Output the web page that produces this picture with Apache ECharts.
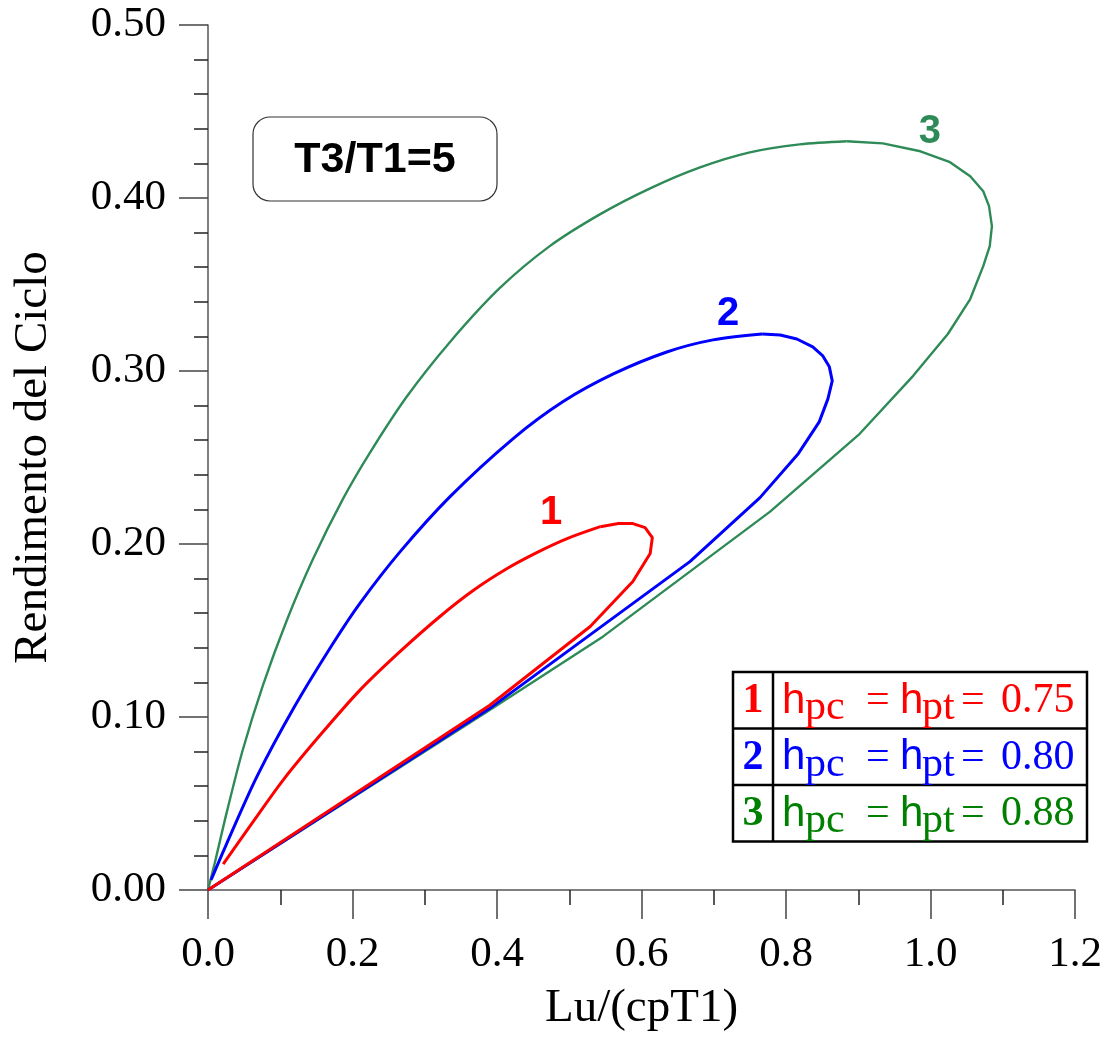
<!DOCTYPE html>
<html><head><meta charset="utf-8">
<script src="https://cdn.jsdelivr.net/npm/echarts@6/dist/echarts.min.js"></script>
<style>html,body{margin:0;padding:0;background:#fff}#c{width:1107px;height:1037px}</style>
</head><body><div id="c"></div>
<script>
// ---- data ----
// curve 1 (eta = 0.75): lower branch + turn, then upper branch
const curve1Lower = [[0,0],[0.390,0.1068],[0.529,0.1523],[0.588,0.1783],[0.612,0.1945],[0.615,0.2037],[0.605,0.2095],[0.588,0.2118],[0.568,0.2118],[0.543,0.2100]];
const curve1Upper = [[0.543,0.2100],[0.497,0.2031],[0.455,0.1950],[0.414,0.1858],[0.367,0.1731],[0.321,0.1581],[0.266,0.1379],[0.210,0.1154],[0.155,0.0894],[0.105,0.0641],[0.064,0.0404],[0.021,0.0150]];
// curve 2 (eta = 0.80)
const curve2Lower = [[0,0],[0.390,0.1050],[0.667,0.1898],[0.764,0.2268],[0.817,0.2522],[0.846,0.2706],[0.858,0.2839],[0.864,0.2943],[0.860,0.3024],[0.851,0.3087],[0.837,0.3139],[0.815,0.3185],[0.792,0.3208],[0.767,0.3214]];
const curve2Upper = [[0.767,0.3214],[0.699,0.3180],[0.635,0.3110],[0.561,0.2983],[0.491,0.2822],[0.422,0.2608],[0.335,0.2274],[0.266,0.1956],[0.210,0.1656],[0.173,0.1425],[0.120,0.1062],[0.068,0.0658],[0.025,0.0260],[0.0042,0.0058]];
// curve 3 (eta = 0.88)
const curve3Lower = [[0,0],[0.390,0.1040],[0.547,0.1466],[0.778,0.2187],[0.902,0.2637],[0.976,0.2972],[1.024,0.3214],[1.055,0.3416],[1.073,0.3606],[1.082,0.3722],[1.085,0.3837],[1.081,0.3953],[1.073,0.4039],[1.055,0.4126],[1.027,0.4207],[0.986,0.4270],[0.934,0.4316],[0.884,0.4328]];
const curve3Upper = [[0.884,0.4328],[0.819,0.4310],[0.750,0.4264],[0.681,0.4177],[0.612,0.4056],[0.543,0.3907],[0.473,0.3722],[0.404,0.3480],[0.335,0.3168],[0.275,0.2851],[0.224,0.2527],[0.187,0.2262],[0.145,0.1910],[0.109,0.1558],[0.076,0.1183],[0.048,0.0808],[0.026,0.0450],[0.0097,0.0162],[0,0]];
// curve number labels (data coords)
const curveLabelNames = ['1','2','3'];
const curveLabelPos = [[0.475,0.218],[0.720,0.333],[0.999,0.438]];
// table / annotation texts
const tableIds = ['1','2','3'];
const tableValues = ['0.75','0.80','0.88'];
const ratioText = 'T3/T1=5';
const xName = 'Lu/(cpT1)';
const yName = 'Rendimento del Ciclo';

// ---- styles ----
const RED = '#FF0000', BLUE = '#0000FF', GREEN = '#2E8B57', TGREEN = '#008000';
const curveColors = [RED, BLUE, GREEN];
const tableColors = [RED, BLUE, TGREEN];
const SERIF = '"Liberation Serif","Times New Roman",serif';
const SANS = '"Liberation Sans",Arial,sans-serif';

const chart = echarts.init(document.getElementById('c'), null, {renderer:'canvas'});

function lineSeries(data, color, width, smooth) {
  return {type:'line', data, showSymbol:false, symbol:'none', smooth: smooth ? 0.3 : false,
    lineStyle:{color, width}, z: 2, animation:false};
}

const series = [
  lineSeries(curve3Lower, GREEN, 2.4, false),
  lineSeries(curve3Upper, GREEN, 2.4, true),
  lineSeries(curve2Lower, BLUE, 3, false),
  lineSeries(curve2Upper, BLUE, 3, true),
  lineSeries(curve1Lower, RED, 3, false),
  lineSeries(curve1Upper, RED, 3, true),
  {type:'scatter', symbolSize:0, animation:false, z:5, itemStyle:{opacity:1},
   data: curveLabelPos.map((p,i)=>({value:p, name:curveLabelNames[i],
     label:{show:true, position:'inside', formatter:curveLabelNames[i], color:curveColors[i],
       opacity:1, fontFamily:SANS, fontWeight:'bold', fontSize:40}}))}
];

// table graphic
const T = {left:733, top:672, right:1087, colX:773, rowH:56.5};
const graphics = [];
graphics.push({type:'rect', shape:{x:253, y:117, width:244, height:84, r:17},
  style:{fill:'#fff', stroke:'#333', lineWidth:1.2}, z:10});
graphics.push({type:'text', x:375, y:160, style:{text:ratioText, font:'bold 43px '+SANS, fill:'#000', align:'center', verticalAlign:'middle'}, z:11});
graphics.push({type:'rect', shape:{x:T.left, y:T.top, width:T.right-T.left, height:T.rowH*3},
  style:{fill:'#fff', stroke:'#000', lineWidth:2.5}, z:10});
graphics.push({type:'line', shape:{x1:T.colX, y1:T.top, x2:T.colX, y2:T.top+T.rowH*3}, style:{stroke:'#000', lineWidth:2.5}, z:11});
for (let i=1;i<3;i++) graphics.push({type:'line', shape:{x1:T.left, y1:T.top+T.rowH*i, x2:T.right, y2:T.top+T.rowH*i}, style:{stroke:'#000', lineWidth:2.5}, z:11});
for (let i=0;i<3;i++) {
  const cy = T.top + T.rowH*i + T.rowH/2 + 1;
  const c = tableColors[i];
  const pieces = [
    {t:tableIds[i], x:753, font:'bold 42px '+SERIF, align:'center', dy:0},
    {t:'h', x:782, font:'42px '+SANS, align:'left', dy:0},
    {t:'pc', x:805, font:'42px '+SERIF, align:'left', dy:7},
    {t:'=', x:866, font:'42px '+SERIF, align:'left', dy:0},
    {t:'h', x:900, font:'42px '+SANS, align:'left', dy:0},
    {t:'pt', x:922, font:'42px '+SERIF, align:'left', dy:7},
    {t:'=', x:961, font:'42px '+SERIF, align:'left', dy:0},
    {t:tableValues[i], x:1001, font:'42px '+SERIF, align:'left', dy:0}
  ];
  pieces.forEach(p => graphics.push({type:'text', x:p.x, y:cy+p.dy,
    style:{text:p.t, font:p.font, fill:c, align:p.align, verticalAlign:'middle'}, z:12}));
}

const axisCommon = {
  type:'value',
  axisLine:{show:true, onZero:false, lineStyle:{color:'#555', width:1.5}},
  axisTick:{show:true, inside:false, length:29, lineStyle:{color:'#444', width:1.5}},
  minorTick:{show:true, length:14, lineStyle:{color:'#222', width:1.5}},
  splitLine:{show:false}, minorSplitLine:{show:false},
  nameLocation:'middle',
  nameTextStyle:{fontFamily:SERIF, fontSize:47, color:'#000'}
};

chart.setOption({
  animation:false,
  backgroundColor:'#fff',
  grid:{left:208, right:32, top:25, bottom:145, containLabel:false},
  xAxis: Object.assign({}, axisCommon, {
    min:0, max:1.2, interval:0.2,
    minorTick:Object.assign({}, axisCommon.minorTick, {splitNumber:2, length:15}),
    axisLabel:{fontFamily:SERIF, fontSize:43, color:'#000', margin:43, formatter:v=>v.toFixed(1)},
    name:xName, nameGap:95
  }),
  yAxis: Object.assign({}, axisCommon, {
    min:0, max:0.5, interval:0.1,
    minorTick:Object.assign({}, axisCommon.minorTick, {splitNumber:5}),
    axisLabel:{fontFamily:SERIF, fontSize:43, color:'#000', margin:42, formatter:v=>v.toFixed(2)},
    name:yName, nameGap:151
  }),
  series,
  graphic: graphics
});
</script>
</body></html>
